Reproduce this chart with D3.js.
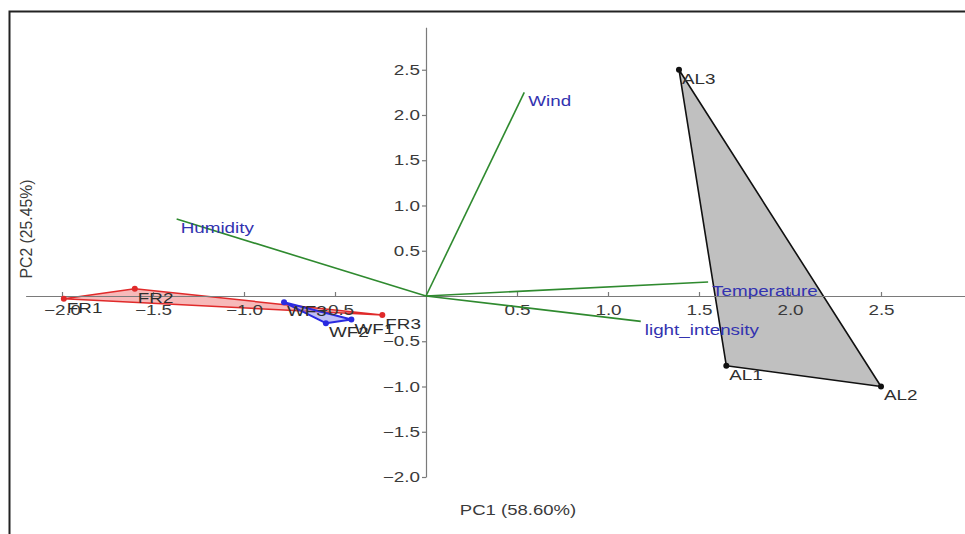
<!DOCTYPE html>
<html><head><meta charset="utf-8">
<script src="https://cdn.jsdelivr.net/npm/d3@7"></script>
<style>html,body{margin:0;padding:0;background:#fff;}svg{display:block;}</style>
</head><body>
<script>
// ---- data ----
const samples = ["FR1","FR2","FR3","WF1","WF2","WF3","AL1","AL2","AL3"];
const groups  = ["FR","FR","FR","WF","WF","WF","AL","AL","AL"];
const pc1 = [-1.99, -1.60, -0.24, -0.41, -0.55, -0.78, 1.65, 2.50, 1.39];
const pc2 = [-0.03, 0.08, -0.21, -0.26, -0.30, -0.07, -0.77, -1.00, 2.50];
const variables = ["Wind","Humidity","Temperature","light_intensity"];
const load1 = [0.54, -1.37, 1.55, 1.18];
const load2 = [2.25, 0.85, 0.155, -0.28];
const xTicks = [-2.0,-1.5,-1.0,-0.5,0.5,1.0,1.5,2.0,2.5];
const yTicks = [-2.0,-1.5,-1.0,-0.5,0.5,1.0,1.5,2.0,2.5];
const groupNames = ["FR","WF","AL"];
const xTitle = "PC1 (58.60%)";
const yTitle = "PC2 (25.45%)";

const W = 965, H = 534;
const SX = 1.3; // horizontal text stretch
const svg = d3.select("body").append("svg").attr("width", W).attr("height", H);

// frame
svg.append("rect").attr("x", 9.5).attr("y", 11.5).attr("width", 1000).attr("height", 600)
  .attr("fill", "#fff").attr("stroke", "#222").attr("stroke-width", 2);

const x = d3.scaleLinear().domain([-2.2, 3.0]).range([25.6, 972]);
const y = d3.scaleLinear().domain([-2.0, 2.97]).range([477, 27.2]);
const fmt = d3.format(".1f");

const styles = {
  FR: {fill: "#f08080", fillOp: 0.55, stroke: "#e02a2a", pt: "#e02a2a", sw: 1.5},
  WF: {fill: "#8080f0", fillOp: 0.5, stroke: "#2a2ae0", pt: "#2a2ae0", sw: 2},
  AL: {fill: "#c0c0c0", fillOp: 1, stroke: "#111", pt: "#111", sw: 1.6}
};

// group hulls
const pts = samples.map((s, i) => ({name: s, g: groups[i], px: x(pc1[i]), py: y(pc2[i])}));
groupNames.forEach(gn => {
  const st = styles[gn];
  const gp = pts.filter(p => p.g === gn).map(p => [p.px, p.py]);
  const hull = d3.polygonHull(gp);
  svg.append("path").attr("d", "M" + hull.join("L") + "Z")
    .attr("fill", st.fill).attr("fill-opacity", st.fillOp)
    .attr("stroke", st.stroke).attr("stroke-width", st.sw).attr("stroke-linejoin", "round");
});

// axes
const axisCol = "#7a7a7a", tickTxt = "#3a3a3a";
const gx = svg.append("g").attr("transform", `translate(0,${y(0)})`)
  .call(d3.axisBottom(x).tickValues(xTicks).tickFormat(fmt).tickSize(-4).tickSizeOuter(0).tickPadding(9));
const gy = svg.append("g").attr("transform", `translate(${x(0)},0)`)
  .call(d3.axisLeft(y).tickValues(yTicks).tickFormat(fmt).tickSize(4).tickSizeOuter(0).tickPadding(2));
[gx, gy].forEach(g => {
  g.select(".domain").attr("stroke", axisCol).attr("stroke-width", 1.2);
  g.selectAll(".tick line").attr("stroke", axisCol).attr("stroke-width", 1.2);
  g.selectAll(".tick text").attr("fill", tickTxt).attr("font-family", "Liberation Sans, Arial, sans-serif")
    .attr("font-size", 14.5);
});
gx.selectAll(".tick text").attr("transform", `scale(${SX},1)`);
gy.selectAll(".tick text").attr("x", -6 / SX).attr("transform", `scale(${SX},1)`);

// loading vectors
variables.forEach((v, i) => {
  svg.append("line").attr("x1", x(0)).attr("y1", y(0)).attr("x2", x(load1[i])).attr("y2", y(load2[i]))
    .attr("stroke", "#2f8a2f").attr("stroke-width", 1.6);
});

// points
pts.forEach(p => {
  svg.append("circle").attr("cx", p.px).attr("cy", p.py).attr("r", 3).attr("fill", styles[p.g].pt);
});

function label(txt, px, py, col) {
  svg.append("text").attr("transform", `translate(${px},${py}) scale(${SX},1)`)
    .attr("font-family", "Liberation Sans, Arial, sans-serif").attr("font-size", 14.5)
    .attr("fill", col).text(txt);
}
pts.forEach(p => label(p.name, p.px + 3, p.py + 14, "#2e2e2e"));
variables.forEach((v, i) => label(v, x(load1[i]) + 4, y(load2[i]) + 14, "#3333b0"));

// axis titles
svg.append("text").attr("transform", `translate(518,515) scale(${SX * 0.95},1)`)
  .attr("text-anchor", "middle").attr("font-family", "Liberation Sans, Arial, sans-serif")
  .attr("font-size", 15).attr("fill", "#3a3a3a").text(xTitle);
svg.append("text").attr("transform", `translate(32,229) rotate(-90) scale(1.05,1.1)`)
  .attr("text-anchor", "middle").attr("font-family", "Liberation Sans, Arial, sans-serif")
  .attr("font-size", 15).attr("fill", "#3a3a3a").text(yTitle);
</script>
</body></html>
